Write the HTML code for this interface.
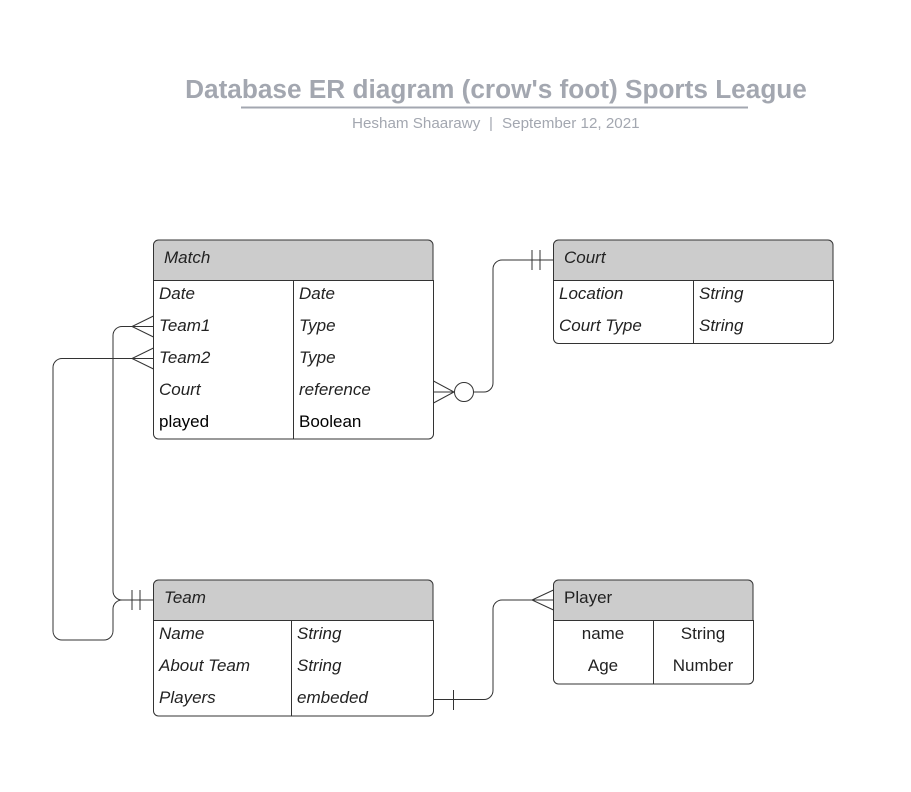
<!DOCTYPE html>
<html><head><meta charset="utf-8"><style>
body{margin:0;background:#fff;}
svg{display:block;font-family:"Liberation Sans",Arial,sans-serif;}
.i{font-style:italic}
</style></head><body>
<svg width="911" height="792" viewBox="0 0 911 792" xmlns="http://www.w3.org/2000/svg">
<rect width="911" height="792" fill="#fff"/>
<text x="496" y="98" text-anchor="middle" font-size="26.2" font-weight="bold" fill="#a3a7b0">Database ER diagram (crow's foot) Sports League</text>
<line x1="241" y1="107.5" x2="748" y2="107.5" stroke="#a3a7b0" stroke-width="2"/>
<text x="352" y="128" font-size="15.2" fill="#a3a7b0">Hesham Shaarawy</text>
<text x="489" y="128" font-size="15.2" fill="#a3a7b0">|</text>
<text x="502" y="128" font-size="15.2" fill="#a3a7b0">September 12, 2021</text>

<g stroke="#333" stroke-width="1" fill="none">
<path d="M153.5,280.5 V245 a5,5 0 0 1 5,-5 H428 a5,5 0 0 1 5,5 V280.5 Z" fill="#cccccc"/>
<path d="M153.5,280.5 H433.5 V434 a5,5 0 0 1 -5,5 H158.5 a5,5 0 0 1 -5,-5 Z" fill="#fff"/>
<line x1="293.5" y1="280.5" x2="293.5" y2="439.5"/>
<path d="M553.5,280.5 V245 a5,5 0 0 1 5,-5 H828 a5,5 0 0 1 5,5 V280.5 Z" fill="#cccccc"/>
<path d="M553.5,280.5 H833.5 V338.5 a5,5 0 0 1 -5,5 H558.5 a5,5 0 0 1 -5,-5 Z" fill="#fff"/>
<line x1="693.5" y1="280.5" x2="693.5" y2="343.5"/>
<path d="M153.5,620.5 V585 a5,5 0 0 1 5,-5 H428 a5,5 0 0 1 5,5 V620.5 Z" fill="#cccccc"/>
<path d="M153.5,620.5 H433.5 V711 a5,5 0 0 1 -5,5 H158.5 a5,5 0 0 1 -5,-5 Z" fill="#fff"/>
<line x1="291.5" y1="620.5" x2="291.5" y2="716"/>
<path d="M553.5,620.5 V585 a5,5 0 0 1 5,-5 H748 a5,5 0 0 1 5,5 V620.5 Z" fill="#cccccc"/>
<path d="M553.5,620.5 H753.5 V679 a5,5 0 0 1 -5,5 H558.5 a5,5 0 0 1 -5,-5 Z" fill="#fff"/>
<line x1="653.5" y1="620.5" x2="653.5" y2="684"/>

<path d="M153.5,326.5 H122 a9,9 0 0 0 -9,9 V591 a9,9 0 0 0 9,9 H153.5"/>
<path d="M153.5,316 L132,326.5 L153.5,337 M132,326.5 H153.5"/>
<path d="M153.5,358.5 H62 a9,9 0 0 0 -9,9 V631 a9,9 0 0 0 9,9 H104 a9,9 0 0 0 9,-9 V609 a9,9 0 0 1 9,-9"/>
<path d="M153.5,348 L132,358.5 L153.5,369"/>
<line x1="132" y1="590" x2="132" y2="610"/>
<line x1="140" y1="590" x2="140" y2="610"/>
<path d="M433.5,381 L454,392 L433.5,403 M433.5,392 H454"/>
<circle cx="464" cy="392" r="9.5" fill="#fff"/>
<path d="M473.5,392 H484 a9,9 0 0 0 9,-9 V269 a9,9 0 0 1 9,-9 H553.5"/>
<line x1="532" y1="250" x2="532" y2="270"/>
<line x1="540" y1="250" x2="540" y2="270"/>
<path d="M433.5,699.5 H484 a9,9 0 0 0 9,-9 V609 a9,9 0 0 1 9,-9 H553.5"/>
<line x1="453.5" y1="690" x2="453.5" y2="710"/>
<path d="M553.5,590 L532,600 L553.5,610"/>
</g>

<g font-size="17" fill="#222">
<text x="164" y="263" class="i">Match</text>
<text x="159" y="299" class="i">Date</text><text x="299" y="299" class="i">Date</text>
<text x="159" y="331" class="i">Team1</text><text x="299" y="331" class="i">Type</text>
<text x="159" y="363" class="i">Team2</text><text x="299" y="363" class="i">Type</text>
<text x="159" y="395" class="i">Court</text><text x="299" y="395" class="i">reference</text>
<text x="159" y="427" fill="#000">played</text><text x="299" y="427" fill="#000">Boolean</text>

<text x="564" y="263" class="i">Court</text>
<text x="559" y="299" class="i">Location</text><text x="699" y="299" class="i">String</text>
<text x="559" y="331" class="i">Court Type</text><text x="699" y="331" class="i">String</text>

<text x="164" y="603" class="i">Team</text>
<text x="159" y="639" class="i">Name</text><text x="297" y="639" class="i">String</text>
<text x="159" y="671" class="i">About Team</text><text x="297" y="671" class="i">String</text>
<text x="159" y="703" class="i">Players</text><text x="297" y="703" class="i">embeded</text>

<text x="564" y="603">Player</text>
<text x="603" y="639" text-anchor="middle">name</text><text x="703" y="639" text-anchor="middle">String</text>
<text x="603" y="671" text-anchor="middle">Age</text><text x="703" y="671" text-anchor="middle">Number</text>
</g>
</svg>
</body></html>
